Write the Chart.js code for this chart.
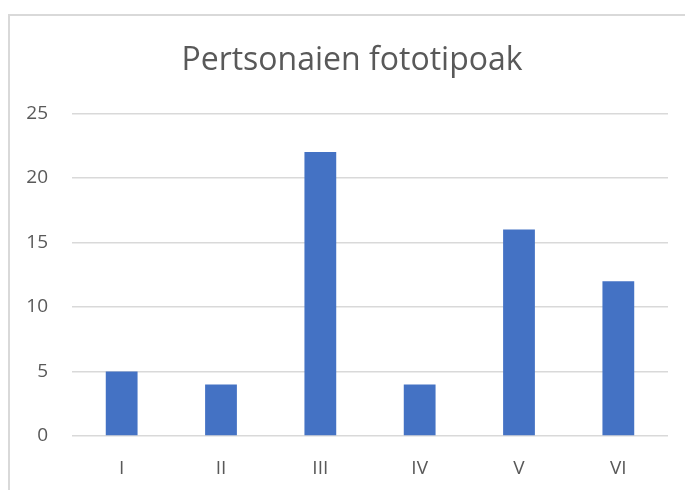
<!DOCTYPE html>
<html>
<head>
<meta charset="utf-8">
<script src="https://cdn.jsdelivr.net/npm/chart.js@4"></script>
<style>
  html, body { margin: 0; padding: 0; background: #fff; overflow: hidden; }
  #frame {
    position: absolute; left: 8px; top: 14px; width: 720px; height: 520px;
    border-left: 2px solid #d9d9d9; border-top: 2px solid #d9d9d9;
  }
  #chart { position: absolute; left: 0; top: 0; }
</style>
</head>
<body>
<div id="frame"></div>
<canvas id="chart" width="705" height="490"></canvas>
<script>
const categories = ["I", "II", "III", "IV", "V", "VI"];
const values = [5, 4, 22, 4, 16, 12];
const yTicks = [0, 5, 10, 15, 20, 25];
const titleText = "Pertsonaien fototipoak";

const textColor = "#595959";
const gridColor = "#d9d9d9";
const barColor = "#4472C4";

// the original frame is cut off on the right, so its title sits right of the canvas centre
const shiftTitle = {
    id: "shiftTitle",
    afterLayout(chart) {
        if (chart.titleBlock) {
            chart.titleBlock.left += 36;
        }
    },
};

new Chart(document.getElementById("chart"), {
    type: "bar",
    data: {
        labels: categories,
        datasets: [{
            data: values,
            backgroundColor: barColor,
            borderWidth: 0,
            categoryPercentage: 1,
            barPercentage: 0.32,
        }],
    },
    plugins: [shiftTitle],
    options: {
        responsive: false,
        animation: false,
        devicePixelRatio: 1,
        layout: { padding: { left: 0, right: 37, top: 0, bottom: 0 } },
        plugins: {
            legend: { display: false },
            tooltip: { enabled: false },
            title: {
                display: true,
                text: titleText,
                color: textColor,
                font: { family: "Open Sans", size: 32, weight: "normal" },
                padding: { top: 42, bottom: 33 },
            },
        },
        scales: {
            x: {
                grid: { display: false, drawTicks: false },
                border: { display: false },
                ticks: {
                    color: textColor,
                    font: { family: "Open Sans", size: 19 },
                    padding: 21,
                },
                afterFit: (s) => { s.height = 54; },
            },
            y: {
                min: 0,
                max: 25,
                afterBuildTicks: (s) => { s.ticks = yTicks.map((v) => ({ value: v })); },
                grid: { color: gridColor, lineWidth: 1.5, drawTicks: false },
                border: { display: false },
                ticks: {
                    color: textColor,
                    font: { family: "Open Sans", size: 19 },
                    padding: 24,
                },
                afterFit: (s) => { s.width = 72; },
            },
        },
    },
});
</script>
</body>
</html>
